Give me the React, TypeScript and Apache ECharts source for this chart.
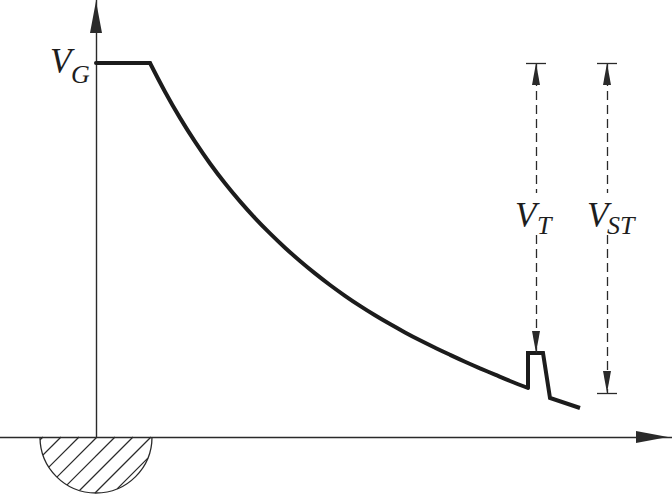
import React, { useEffect, useRef } from "react";
import * as echarts from "echarts";

// Waveform, in axis units (origin = crossing of the axes, 1 unit = 1 px)
const flatPart: number[][] = [[0, 374], [54, 374]];
const decayCurve: number[][] = [
  [54, 374], [69, 345.3], [84, 319.1], [99, 295.3], [114, 273.5], [129, 253.7],
  [144, 235.6], [159, 218.9], [174, 203.6], [189, 189.3], [204, 176.0], [219, 163.6],
  [234, 152.0], [249, 141.2], [264, 131.1], [279, 121.7], [294, 112.9], [309, 104.6],
  [324, 96.7], [339, 89.3], [354, 82.2], [369, 75.3], [384, 68.7], [399, 62.3],
  [414, 56.0], [432, 49],
];
const spikePart: number[][] = [[432, 49], [432, 84], [447, 84], [454, 39], [484, 29]];

// Annotation levels
const vgLevel = 374;
const vtX = 440;
const vtTarget = 84;
const vstX = 511;
const vstTarget = 44;
const gapTop = 244;
const gapBottom = 202;

const labelMain = "V";
const subG = "G";
const subT = "T";
const subST = "ST";

const X_MIN = -96;
const X_MAX = 576;
const Y_MAX = 437;

export default function App() {
  const ref = useRef<HTMLDivElement>(null);
  useEffect(() => {
    const chart = echarts.init(ref.current!, null, { renderer: "svg" });
    const ink = "#1c1c1c";
    const thin = "#2a2a2a";
    const font = '"Liberation Serif", "Times New Roman", serif';
    const dashed = { type: [9, 5], color: thin, width: 1.3 };
    const solid = { type: "solid", color: thin, width: 1.3 };
    const arrowEnd = { symbol: "triangle", symbolSize: [8, 22], symbolOffset: [0, 11] };
    const tick = (x: number, y: number) => [
      { coord: [x - 10, y], symbol: "none", lineStyle: solid },
      { coord: [x + 10, y], symbol: "none" },
    ];

    // hatch for the half disc below the origin
    const cx = 96, cy = 437, R = 56;
    const hatch: any[] = [];
    for (let k = -3; k <= 4; k++) {
      const c = 1 + 18 * k;
      const s = Math.sqrt(2 * R * R - c * c);
      const u1 = (c - s) / 2, v1 = (c + s) / 2;
      let u2: number, v2: number;
      if (c <= R) { u2 = c; v2 = 0; } else { u2 = (c + s) / 2; v2 = (c - s) / 2; }
      hatch.push({
        type: "line",
        shape: { x1: cx + u1, y1: cy + v1, x2: cx + u2, y2: cy + v2 },
        style: { stroke: thin, lineWidth: 1.2 },
      });
    }

    const txt = (x: number, y: number, text: string, size: number) => ({
      type: "text",
      x,
      y,
      style: {
        text,
        fontFamily: font,
        fontStyle: "italic",
        fontSize: size,
        fill: "#1e1e1e",
        align: "left",
        verticalAlign: "middle",
      },
    });

    chart.setOption({
      animation: false,
      backgroundColor: "#ffffff",
      grid: { left: 0, right: 0, top: 0, bottom: 57 },
      xAxis: {
        type: "value",
        min: X_MIN,
        max: X_MAX,
        axisLine: {
          show: true,
          onZero: true,
          symbol: ["none", "triangle"],
          symbolSize: [12, 32],
          symbolOffset: [0, -20],
          lineStyle: { color: thin, width: 1.4 },
        },
        axisTick: { show: false },
        axisLabel: { show: false },
        splitLine: { show: false },
      },
      yAxis: {
        type: "value",
        min: 0,
        max: Y_MAX,
        axisLine: {
          show: true,
          onZero: true,
          symbol: ["none", "triangle"],
          symbolSize: [12, 32],
          symbolOffset: [0, -17],
          lineStyle: { color: thin, width: 1.4 },
        },
        axisTick: { show: false },
        axisLabel: { show: false },
        splitLine: { show: false },
      },
      series: [
        {
          type: "line",
          data: flatPart,
          symbol: "none",
          lineStyle: { color: ink, width: 4, cap: "round" },
        },
        {
          type: "line",
          data: decayCurve,
          symbol: "none",
          smooth: 0.4,
          lineStyle: { color: ink, width: 4, cap: "round" },
        },
        {
          type: "line",
          data: spikePart,
          symbol: "none",
          lineStyle: { color: ink, width: 4, join: "miter", cap: "butt" },
          markLine: {
            silent: true,
            label: { show: false },
            symbol: ["none", "none"],
            lineStyle: dashed,
            itemStyle: { color: thin },
            data: [
              [
                { coord: [vtX, vgLevel], ...arrowEnd, lineStyle: dashed },
                { coord: [vtX, gapTop], symbol: "none" },
              ],
              [
                { coord: [vtX, gapBottom], symbol: "none", lineStyle: dashed },
                { coord: [vtX, vtTarget], ...arrowEnd },
              ],
              [
                { coord: [vstX, vgLevel], ...arrowEnd, lineStyle: dashed },
                { coord: [vstX, gapTop], symbol: "none" },
              ],
              [
                { coord: [vstX, gapBottom], symbol: "none", lineStyle: dashed },
                { coord: [vstX, vstTarget], ...arrowEnd },
              ],
              tick(vtX, vgLevel),
              tick(vstX, vgLevel),
              tick(vstX, vstTarget),
            ],
          },
        },
      ],
      graphic: [
        {
          type: "arc",
          shape: { cx, cy, r: R, startAngle: 0, endAngle: Math.PI, clockwise: true },
          style: { stroke: thin, lineWidth: 1.3, fill: "none" },
        },
        ...hatch,
        txt(50, 61, labelMain, 35),
        txt(71, 74, subG, 26),
        txt(515, 215, labelMain, 35),
        txt(537, 225, subT, 26),
        txt(587, 215, labelMain, 35),
        txt(607, 225, subST, 26),
      ],
    });
    return () => chart.dispose();
  }, []);
  return (
    <div
      ref={ref}
      style={{ position: "absolute", left: 0, top: 0, width: 672, height: 494 }}
    />
  );
}
